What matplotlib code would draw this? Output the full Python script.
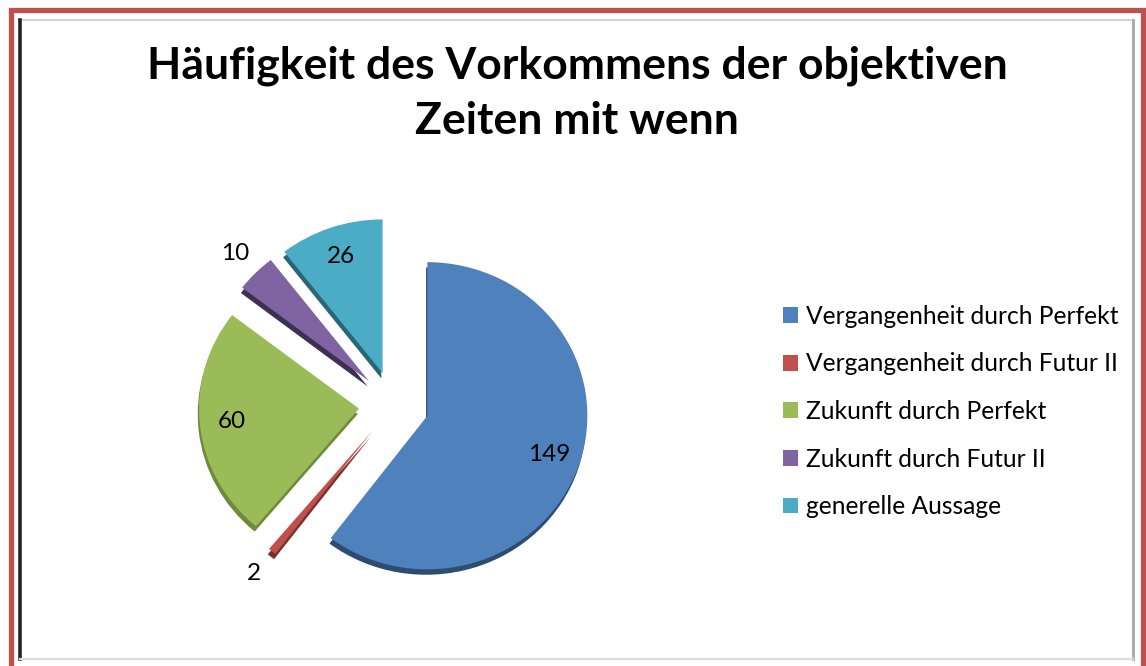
import matplotlib.pyplot as plt
from matplotlib.patches import Rectangle
from matplotlib.lines import Line2D
import numpy as np

# data
categories = ['Vergangenheit durch Perfekt', 'Vergangenheit durch Futur II',
              'Zukunft durch Perfekt', 'Zukunft durch Futur II', 'generelle Aussage']
values = [149, 2, 60, 10, 26]
title = 'Häufigkeit des Vorkommens der objektiven\nZeiten mit wenn'

colors = ['#4F81BD', '#C0504D', '#9BBB59', '#8064A2', '#4BACC6']
dark = ['#2E4B70', '#7A2F2D', '#6E8A3C', '#3E3052', '#2C6675']

plt.rcParams['font.family'] = ['Lato', 'DejaVu Sans']

W, H = 1146, 666
fig = plt.figure(figsize=(W / 100, H / 100), dpi=100)
fig.patch.set_facecolor('white')


def px(x, y):
    # pixel coords (top-left origin) -> figure fraction
    return x / W, 1 - y / H


# frames
fig.add_artist(Line2D([19 / W, 1133 / W], [1 - 19.5 / H, 1 - 19.5 / H], color='#d4d4d4', lw=1.6))
fig.add_artist(Line2D([20 / W, 20 / W], [1 - 20 / H, 1 - 659 / H], color='#222222', lw=2.6))
fig.add_artist(Line2D([1133 / W, 1133 / W], [1 - 20 / H, 1 - 659 / H], color='#a8a8a8', lw=2.0))
fig.add_artist(Line2D([20 / W, 1133 / W], [1 - 658.5 / H, 1 - 658.5 / H], color='#dcdcdc', lw=1.6))
fig.add_artist(Rectangle(px(10.5, 700), 1132 / W, (700 - 9.5) / H, transform=fig.transFigure,
                         fill=False, edgecolor='#C0504D', lw=3.8, joinstyle='miter'))

# pie axes: center ~ (394, 405) px, radius 160 px
R = 160
L = 1.5
yscale = 0.96
cx, cy = 394, 405
ax = fig.add_axes([(cx - L * R) / W, (H - cy - L * R) / H, 2 * L * R / W, 2 * L * R / H])
explode = [0.22] * len(values)

# depth (side) of the 3d pie
ax.pie(values, explode=explode, colors=dark, startangle=90, counterclock=False,
       center=(-0.008, -0.035), wedgeprops=dict(linewidth=0))
wedges, _ = ax.pie(values, explode=explode, colors=colors, startangle=90, counterclock=False,
                   wedgeprops=dict(linewidth=0))
ax.set_xlim(-L, L)
ax.set_ylim(-L / yscale, L / yscale)
ax.set_aspect('auto')
ax.axis('off')

total = sum(values)
for w, v in zip(wedges, values):
    mid = np.deg2rad((w.theta1 + w.theta2) / 2)
    d = 0.8 if v / total > 0.08 else 1.18
    x = w.center[0] + d * w.r * np.cos(mid)
    y = w.center[1] + d * w.r * np.sin(mid)
    ax.text(x, y, str(v), ha='center', va='center', fontsize=17.5, color='black')

fig.text(577 / W, 1 - 93 / H, title, ha='center', va='center', fontsize=32,
         fontweight='bold', linespacing=1.45)

leg = fig.legend(wedges, categories, loc='center left',
                 bbox_to_anchor=(783 / W, 1 - 411.5 / H), frameon=False,
                 fontsize=17.7, handlelength=0.62, handleheight=0.62,
                 handletextpad=0.3, labelspacing=1.0, borderpad=0, borderaxespad=0)

fig.savefig('out.png', dpi=100)
